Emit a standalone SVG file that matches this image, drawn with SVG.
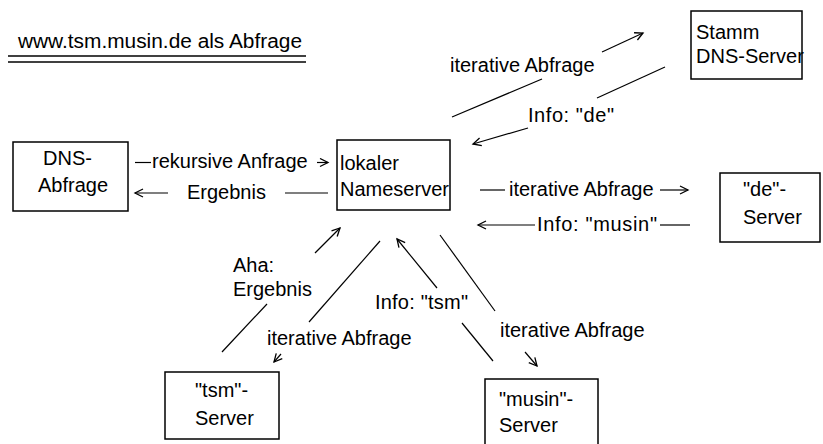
<svg xmlns="http://www.w3.org/2000/svg" width="823" height="444" viewBox="0 0 823 444">
<style>
text{font-family:"Liberation Sans",Arial,sans-serif;font-size:20px;fill:#000}
.box{fill:#fff;stroke:#000;stroke-width:1.5}
.c{stroke:#000;stroke-width:1.2;fill:none}
.a{marker-end:url(#ah)}
</style>
<defs>
<marker id="ah" markerUnits="userSpaceOnUse" markerWidth="12" markerHeight="12" refX="9" refY="5" orient="auto">
<path d="M1,1 L9,5 L1,9" fill="none" stroke="#000" stroke-width="1.3"/>
</marker>
</defs>
<rect width="823" height="444" fill="#fff"/>
<g id="title">
<text x="18" y="48" textLength="284" lengthAdjust="spacingAndGlyphs">www.tsm.musin.de als Abfrage</text>
<line x1="8" y1="56" x2="306" y2="56" stroke="#000" stroke-width="1.6"/>
<line x1="8" y1="62" x2="306" y2="62" stroke="#000" stroke-width="1.6"/>
</g>
<g id="dns-abfrage">
<rect class="box" x="13" y="142" width="115" height="69"/>
<text x="43" y="165">DNS-</text>
<text x="38" y="192">Abfrage</text>
</g>
<g id="lokaler-nameserver">
<rect class="box" x="337" y="140" width="113" height="70"/>
<text x="340" y="170">lokaler</text>
<text x="340" y="196">Nameserver</text>
</g>
<g id="stamm-dns-server">
<rect class="box" x="691" y="11" width="111" height="68"/>
<text x="696" y="39">Stamm</text>
<text x="696" y="63">DNS-Server</text>
</g>
<g id="de-server">
<rect class="box" x="720" y="173" width="100" height="69"/>
<text x="743" y="196">"de"-</text>
<text x="743" y="224">Server</text>
</g>
<g id="tsm-server">
<rect class="box" x="165" y="372" width="114" height="67"/>
<text x="195" y="397">"tsm"-</text>
<text x="195" y="425">Server</text>
</g>
<g id="musin-server">
<rect class="box" x="485" y="379" width="113" height="70"/>
<text x="499" y="406">"musin"-</text>
<text x="499" y="432">Server</text>
</g>
<g id="connectors">
<line class="c" x1="135" y1="162.5" x2="151" y2="162.5"/>
<line class="c a" x1="317" y1="162.5" x2="328" y2="162.5"/>
<line class="c a" x1="168" y1="193" x2="135" y2="193"/>
<line class="c" x1="285" y1="193" x2="328" y2="193"/>
<line class="c" x1="480" y1="190" x2="505" y2="190"/>
<line class="c a" x1="660" y1="190" x2="688" y2="190"/>
<line class="c a" x1="535" y1="225" x2="478" y2="225"/>
<line class="c" x1="660" y1="225" x2="690" y2="225"/>
<line class="c" x1="452" y1="117" x2="542" y2="79"/>
<line class="c a" x1="602" y1="52" x2="643" y2="33"/>
<line class="c" x1="665" y1="67" x2="597" y2="98"/>
<line class="c a" x1="528" y1="128" x2="473" y2="144"/>
<line class="c" x1="222" y1="352" x2="267" y2="304"/>
<line class="c a" x1="315" y1="253" x2="340" y2="228"/>
<line class="c" x1="380" y1="241" x2="309" y2="322"/>
<line class="c a" x1="281" y1="354" x2="274" y2="362"/>
<line class="c" x1="493" y1="361" x2="462" y2="323"/>
<line class="c a" x1="437" y1="288" x2="397" y2="239"/>
<line class="c" x1="440" y1="235" x2="495" y2="311"/>
<line class="c a" x1="525" y1="352" x2="537" y2="366"/>
</g>
<g id="labels">
<text x="152" y="168">rekursive Anfrage</text>
<text x="187" y="199">Ergebnis</text>
<text x="509" y="196">iterative Abfrage</text>
<text x="537" y="231" textLength="120" lengthAdjust="spacing">Info: "musin"</text>
<text x="450" y="72">iterative Abfrage</text>
<text x="528" y="122" textLength="86" lengthAdjust="spacing">Info: "de"</text>
<text x="233" y="272">Aha:</text>
<text x="233" y="296">Ergebnis</text>
<text x="267" y="345">iterative Abfrage</text>
<text x="375" y="309" textLength="93" lengthAdjust="spacing">Info: "tsm"</text>
<text x="500" y="337">iterative Abfrage</text>
</g>
</svg>
